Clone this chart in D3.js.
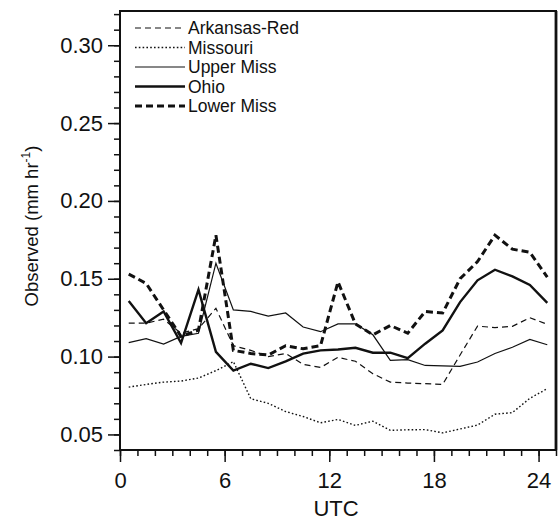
<!DOCTYPE html>
<html>
<head>
<meta charset="utf-8">
<script src="https://cdn.jsdelivr.net/npm/d3@7"></script>
<style>
  html, body { margin: 0; padding: 0; background: #fff; }
  svg { display: block; }
  text { font-family: "Liberation Sans", Arial, Helvetica, sans-serif; fill: #111; }
</style>
</head>
<body>
<svg id="chart" width="560" height="522"></svg>
<script>
// Hour of day (UTC) for each plotted value
const utcHours = [0.5, 1.5, 2.5, 3.5, 4.5, 5.5, 6.5, 7.5, 8.5, 9.5, 10.5, 11.5, 12.5,
                  13.5, 14.5, 15.5, 16.5, 17.5, 18.5, 19.5, 20.5, 21.5, 22.5, 23.5, 24.5];

// Observed precipitation (mm hr^-1) for each basin
const arkansasRed = [0.1215, 0.1215, 0.124, 0.115, 0.118, 0.131, 0.107, 0.104, 0.100, 0.102, 0.095, 0.093, 0.0995,
                     0.097, 0.089, 0.0836, 0.083, 0.0826, 0.0821, 0.101, 0.1196, 0.1186, 0.1194, 0.125, 0.1207];
const missouri    = [0.0804, 0.0821, 0.0836, 0.0843, 0.0862, 0.091, 0.0968, 0.0729, 0.070, 0.0647, 0.0615, 0.0575, 0.0596,
                     0.0558, 0.0585, 0.0526, 0.053, 0.0531, 0.051, 0.0535, 0.056, 0.063, 0.064, 0.0732, 0.0794];
const upperMiss   = [0.109, 0.1115, 0.108, 0.113, 0.115, 0.160, 0.130, 0.129, 0.126, 0.128, 0.119, 0.116, 0.121,
                     0.121, 0.114, 0.0976, 0.098, 0.0943, 0.094, 0.0937, 0.0965, 0.102, 0.106, 0.111, 0.1076];
const ohio        = [0.1357, 0.1215, 0.129, 0.1087, 0.143, 0.103, 0.091, 0.0954, 0.0926, 0.0969, 0.1019, 0.104, 0.1046,
                     0.1057, 0.1025, 0.1025, 0.099, 0.1083, 0.1168, 0.135, 0.149, 0.1558, 0.1515, 0.146, 0.1345];
const lowerMiss   = [0.153, 0.147, 0.130, 0.113, 0.117, 0.178, 0.104, 0.102, 0.101, 0.107, 0.105, 0.107, 0.148,
                     0.121, 0.114, 0.120, 0.115, 0.129, 0.128, 0.150, 0.161, 0.178, 0.169, 0.167, 0.151];

const seriesNames = ["Arkansas-Red", "Missouri", "Upper Miss", "Ohio", "Lower Miss"];
const seriesValues = [arkansasRed, missouri, upperMiss, ohio, lowerMiss];

// Axis ticks
const yMajorTicks = [0.05, 0.10, 0.15, 0.20, 0.25, 0.30];
const yMinorTicks = [0.04, 0.05, 0.06, 0.07, 0.08, 0.09, 0.10, 0.11, 0.12, 0.13, 0.14, 0.15, 0.16, 0.17, 0.18,
                     0.19, 0.20, 0.21, 0.22, 0.23, 0.24, 0.25, 0.26, 0.27, 0.28, 0.29, 0.30, 0.31, 0.32];
const xMajorTicks = [0, 6, 12, 18, 24];
const xMinorTicks = [0, 1, 2, 3, 4, 5, 6, 7, 8, 9, 10, 11, 12, 13, 14, 15, 16, 17, 18, 19, 20, 21, 22, 23, 24, 25];

// Line styles per basin
const styles = {
  "Arkansas-Red": { width: 1.2, dash: "6,4" },
  "Missouri":     { width: 1.4, dash: "1.6,2.2" },
  "Upper Miss":   { width: 1.2, dash: null },
  "Ohio":         { width: 2.4, dash: null },
  "Lower Miss":   { width: 3.0, dash: "7,4" }
};

const plot = { left: 120, right: 556, top: 11, bottom: 450 };

const svg = d3.select("#chart");

const x = d3.scaleLinear().domain([0, 25]).range([plot.left, plot.right]);
const y = d3.scaleLinear().domain([0.04, 0.322]).range([plot.bottom, plot.top]);

// Frame
svg.append("rect")
  .attr("x", plot.left).attr("y", plot.top)
  .attr("width", plot.right - plot.left).attr("height", plot.bottom - plot.top)
  .attr("fill", "none").attr("stroke", "#111").attr("stroke-width", 2);
svg.append("line")
  .attr("x1", plot.right).attr("x2", plot.right)
  .attr("y1", plot.top).attr("y2", plot.bottom)
  .attr("stroke", "#111").attr("stroke-width", 2.8);

// Y axis: minor then major ticks
const yMinor = svg.append("g").attr("transform", `translate(${plot.left},0)`)
  .call(d3.axisLeft(y).tickValues(yMinorTicks).tickSize(6).tickFormat(""));
const yMajor = svg.append("g").attr("transform", `translate(${plot.left},0)`)
  .call(d3.axisLeft(y).tickValues(yMajorTicks).tickSize(12).tickPadding(5).tickFormat(d3.format(".2f")));

// X axis: minor then major ticks
const xMinor = svg.append("g").attr("transform", `translate(0,${plot.bottom})`)
  .call(d3.axisBottom(x).tickValues(xMinorTicks).tickSize(6).tickFormat(""));
const xMajor = svg.append("g").attr("transform", `translate(0,${plot.bottom})`)
  .call(d3.axisBottom(x).tickValues(xMajorTicks).tickSize(12).tickPadding(10).tickFormat(d3.format("d")));

[yMinor, yMajor, xMinor, xMajor].forEach(g => {
  g.select(".domain").remove();
  g.selectAll(".tick line").attr("stroke", "#111").attr("stroke-width", 1.5);
  g.selectAll(".tick text").attr("font-size", 22).attr("fill", "#111")
    .style("font-family", "'Liberation Sans', Arial, sans-serif");
});

// Axis titles
svg.append("text")
  .attr("x", (plot.left + plot.right) / 2 - 2).attr("y", 516)
  .attr("text-anchor", "middle").attr("font-size", 22)
  .text("UTC");

const yTitle = svg.append("text")
  .attr("transform", "translate(38,226) rotate(-90)")
  .attr("text-anchor", "middle").attr("font-size", 18.5);
yTitle.append("tspan").text("Observed (mm hr");
yTitle.append("tspan").attr("dy", -8).attr("font-size", 12).text("-1");
yTitle.append("tspan").attr("dy", 8).text(")");

// Data lines
const line = d3.line()
  .x((d, i) => x(utcHours[i]))
  .y(d => y(d));

seriesNames.forEach((name, k) => {
  const s = styles[name];
  svg.append("path")
    .datum(seriesValues[k])
    .attr("d", line)
    .attr("fill", "none")
    .attr("stroke", "#111")
    .attr("stroke-width", s.width)
    .attr("stroke-linejoin", "miter")
    .attr("stroke-dasharray", s.dash);
});

// Legend
const legend = svg.append("g").attr("transform", "translate(135,28)");
seriesNames.forEach((name, k) => {
  const s = styles[name];
  const row = legend.append("g").attr("transform", `translate(0,${k * 19.5})`);
  row.append("line")
    .attr("x1", 0).attr("x2", 50).attr("y1", 0).attr("y2", 0)
    .attr("stroke", "#111").attr("stroke-width", s.width)
    .attr("stroke-dasharray", s.dash);
  row.append("text")
    .attr("x", 53).attr("y", 0).attr("dy", "0.36em")
    .attr("font-size", 17.5)
    .text(name);
});
</script>
</body>
</html>
